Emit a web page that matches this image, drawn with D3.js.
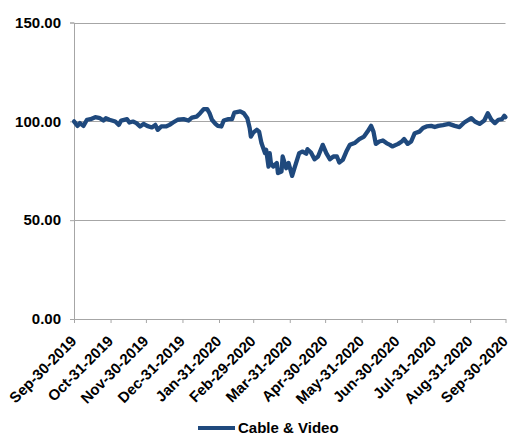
<!DOCTYPE html>
<html>
<head>
<meta charset="utf-8">
<script src="https://cdn.jsdelivr.net/npm/d3@7"></script>
<style>
  html, body { margin: 0; padding: 0; background: #fff; }
  svg { display: block; font-family: "Liberation Sans", Arial, sans-serif; }
</style>
</head>
<body>
<svg id="chart" width="510" height="435"></svg>
<script>
// Cable & Video index, rebased to 100 on Sep-30-2019
const seriesName = "Cable & Video";

const dates = [
  "2019-09-30","2019-10-03","2019-10-05","2019-10-08","2019-10-11","2019-10-14","2019-10-18","2019-10-22",
  "2019-10-25","2019-10-27","2019-10-30","2019-11-04","2019-11-07","2019-11-09","2019-11-14","2019-11-16",
  "2019-11-19","2019-11-22","2019-11-25","2019-11-28","2019-12-01","2019-12-05","2019-12-08","2019-12-10",
  "2019-12-13","2019-12-17","2019-12-20","2019-12-23","2019-12-27","2020-01-01","2020-01-05","2020-01-08",
  "2020-01-12","2020-01-15","2020-01-18","2020-01-21","2020-01-23","2020-01-25","2020-01-28","2020-01-30",
  "2020-02-02","2020-02-04","2020-02-08","2020-02-11","2020-02-13","2020-02-18","2020-02-21","2020-02-24",
  "2020-02-26","2020-02-27","2020-02-29","2020-03-03","2020-03-05","2020-03-07","2020-03-10","2020-03-11",
  "2020-03-13","2020-03-14","2020-03-15","2020-03-17","2020-03-20","2020-03-21","2020-03-24","2020-03-25",
  "2020-03-28","2020-03-30","2020-04-02","2020-04-04","2020-04-08","2020-04-11","2020-04-14","2020-04-15",
  "2020-04-18","2020-04-21","2020-04-24","2020-04-28","2020-05-01","2020-05-04","2020-05-07","2020-05-10",
  "2020-05-12","2020-05-15","2020-05-18","2020-05-21","2020-05-25","2020-05-29","2020-06-02","2020-06-05",
  "2020-06-08","2020-06-10","2020-06-12","2020-06-15","2020-06-18","2020-06-21","2020-06-24","2020-06-26",
  "2020-07-01","2020-07-04","2020-07-06","2020-07-09","2020-07-12","2020-07-15","2020-07-19","2020-07-22",
  "2020-07-25","2020-07-29","2020-08-01","2020-08-04","2020-08-08","2020-08-13","2020-08-18","2020-08-22",
  "2020-08-26","2020-09-01","2020-09-04","2020-09-08","2020-09-12","2020-09-15","2020-09-18","2020-09-21",
  "2020-09-24","2020-09-27","2020-09-29","2020-09-30"
];

const values = [
  100.0, 97.7, 99.1, 97.7, 100.8, 101.1, 102.1, 101.6,
  100.4, 101.6, 100.8, 99.9, 98.2, 100.4, 101.1, 99.4,
  99.9, 99.1, 97.4, 98.7, 97.7, 96.9, 98.2, 95.7,
  97.4, 97.4, 98.2, 99.4, 100.8, 101.1, 100.4, 101.9,
  102.4, 104.1, 106.2, 106.2, 104.1, 100.8, 98.7, 97.7,
  97.4, 100.4, 101.1, 101.1, 104.4, 105.0, 104.1, 101.6,
  96.6, 92.3, 94.3, 95.7, 94.8, 89.0, 83.9, 85.6,
  77.1, 83.9, 78.9, 77.1, 78.9, 73.8, 74.6, 82.2,
  76.3, 78.9, 72.4, 76.3, 83.9, 84.7, 83.6, 85.9,
  84.2, 80.8, 82.2, 88.1, 83.9, 80.8, 82.2, 82.2,
  79.2, 80.5, 84.7, 88.1, 89.0, 91.0, 92.3, 94.8,
  97.7, 94.8, 88.6, 89.8, 90.3, 89.0, 88.1, 87.3,
  88.6, 89.8, 91.0, 88.6, 89.8, 94.0, 94.8, 96.6,
  97.4, 97.7, 97.1, 97.7, 98.1, 98.7, 97.7, 97.1,
  99.4, 101.6, 99.9, 98.7, 100.4, 104.1, 100.8, 99.1,
  100.8, 101.1, 102.8, 102.1
];

const yTicks = [0, 50, 100, 150];
const xTickDates = [
  "2019-09-30","2019-10-31","2019-11-30","2019-12-31","2020-01-31","2020-02-29","2020-03-31",
  "2020-04-30","2020-05-31","2020-06-30","2020-07-31","2020-08-31","2020-09-30"
];

const parse = d3.utcParse("%Y-%m-%d");
const fmtTick = d3.utcFormat("%b-%d-%Y");
const points = dates.map((d, i) => ({ date: parse(d), value: values[i] }));

const lineColor = "#1F497D";
const gridColor = "#A6A6A6";
const fontFamily = "'Liberation Sans', Arial, sans-serif";
const fontSize = 15;

const svg = d3.select("#chart");
const margin = { left: 74, right: 4, top: 22.5, bottom: 116 };
const width = 510, height = 435;

const x = d3.scaleUtc()
  .domain([parse(xTickDates[0]), parse(xTickDates[xTickDates.length - 1])])
  .range([margin.left, width - margin.right - 0.5]);

const y = d3.scaleLinear()
  .domain([0, 150])
  .range([height - margin.bottom, margin.top]);

// Horizontal gridlines
svg.append("g")
  .selectAll("line")
  .data(yTicks.filter(v => v > 0))
  .join("line")
  .attr("x1", x.range()[0]).attr("x2", x.range()[1])
  .attr("y1", d => Math.round(y(d)) + 0.5).attr("y2", d => Math.round(y(d)) + 0.5)
  .attr("stroke", gridColor).attr("stroke-width", 1);

// Y axis
const yAxis = svg.append("g")
  .attr("transform", `translate(${x.range()[0]},0)`)
  .call(d3.axisLeft(y).tickValues(yTicks).tickFormat(d3.format(".2f")).tickSize(4).tickPadding(9));
yAxis.select(".domain").attr("stroke", gridColor);
yAxis.selectAll(".tick line").attr("stroke", gridColor);
yAxis.selectAll(".tick text")
  .attr("fill", "#000").attr("font-size", fontSize).attr("font-weight", "bold")
  .attr("font-family", fontFamily);

// X axis with rotated date labels
const xAxis = svg.append("g")
  .attr("transform", `translate(0,${y(0)})`)
  .call(d3.axisBottom(x).tickValues(xTickDates.map(parse)).tickFormat(fmtTick).tickSize(4).tickSizeOuter(0));
xAxis.select(".domain").attr("stroke", gridColor);
xAxis.selectAll(".tick line").attr("stroke", gridColor);
xAxis.selectAll(".tick text")
  .attr("fill", "#000").attr("font-size", fontSize).attr("font-weight", "bold")
  .attr("font-family", fontFamily)
  .attr("text-anchor", "end")
  .attr("y", 0).attr("dy", 0)
  .attr("transform", "translate(3,23) rotate(-45)");

// Series line
const line = d3.line().x(d => x(d.date)).y(d => y(d.value)).curve(d3.curveLinear);
svg.append("path")
  .datum(points)
  .attr("d", line)
  .attr("fill", "none")
  .attr("stroke", lineColor)
  .attr("stroke-width", 4.3)
  .attr("stroke-linejoin", "round")
  .attr("stroke-linecap", "round");

// Legend
const legend = svg.append("g").attr("transform", "translate(198,428)");
legend.append("line")
  .attr("x1", 0).attr("x2", 37).attr("y1", 0).attr("y2", 0)
  .attr("stroke", lineColor).attr("stroke-width", 4);
legend.append("text")
  .attr("x", 40).attr("y", 0).attr("dy", "0.35em")
  .attr("font-size", fontSize).attr("font-weight", "bold").attr("fill", "#000")
  .attr("font-family", fontFamily)
  .text(seriesName);
</script>
</body>
</html>
